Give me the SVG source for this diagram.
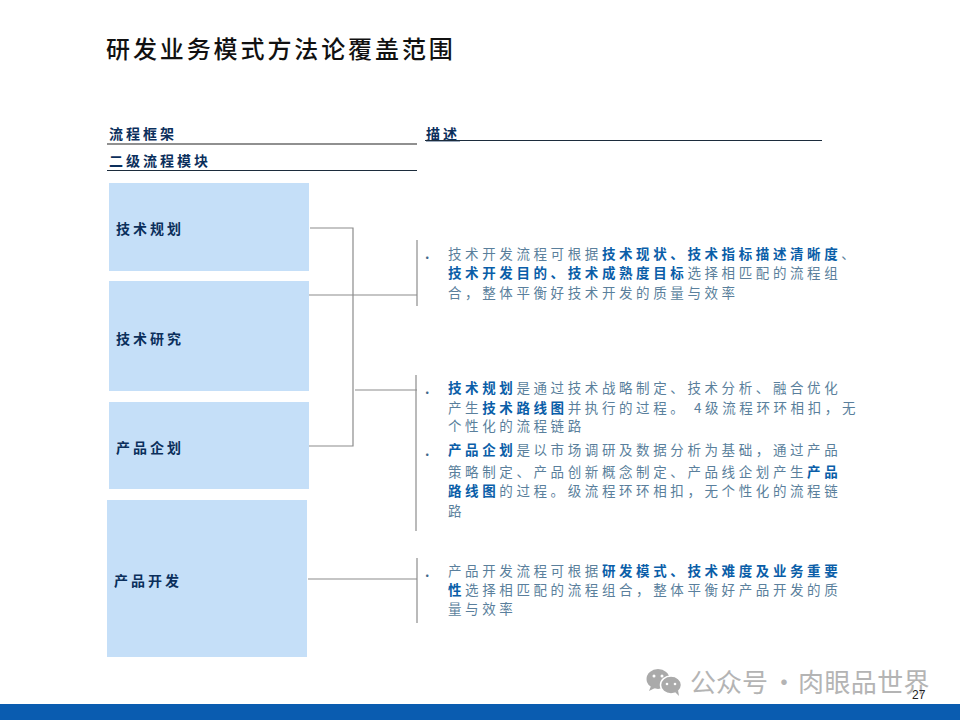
<svg xmlns="http://www.w3.org/2000/svg" width="960" height="720" viewBox="0 0 960 720">
<style>
text{font-family:"Noto Sans CJK SC","Noto Sans",sans-serif}
.box{fill:#c5dff8}
.lbl{font-size:14px;font-weight:700;fill:#0b2f5c;letter-spacing:3px}
.hd{font-size:14px;font-weight:700;fill:#0b2f5c;letter-spacing:3px}
.b{font-size:13.5px;fill:#5a7f9c;letter-spacing:3.6px}
.b tspan{font-weight:700;fill:#0a5ea8}
.dot{font-size:13.5px;font-weight:700;fill:#3f6a8c}
.c{fill:none;stroke:#8c8c8c;stroke-width:1.2}
.r{stroke:#1c2c3c;stroke-width:1.2;fill:none}
</style>
<rect width="960" height="720" fill="#fff"/>
<text x="106" y="58" font-size="24" font-weight="500" fill="#111" letter-spacing="2.9">研发业务模式方法论覆盖范围</text>
<g id="headers">
<text class="hd" x="109" y="139">流程框架</text>
<text class="hd" x="109" y="166">二级流程模块</text>
<text class="hd" x="426" y="139" text-decoration="underline">描述</text>
<path d="M107 144H417" stroke="#909090" stroke-width="2" fill="none"/>
<path class="r" d="M107 170.500H417"/>
<path class="r" d="M425 140.500H822"/>
</g>
<g id="connectors">
<path class="c" d="M310 228H353V446H309"/>
<path class="c" d="M309 295H417"/>
<path class="c" d="M355 390H417"/>
<path class="c" d="M308 579H417"/>
<path class="c" d="M417 240V306"/>
<path class="c" d="M416 375V531"/>
<path class="c" d="M417 558V623"/>
</g>
<g id="node-1"><rect class="box" x="109" y="183" width="200" height="88"/><text class="lbl" x="116" y="234">技术规划</text></g>
<g id="node-2"><rect class="box" x="109" y="281" width="200" height="110"/><text class="lbl" x="116" y="344">技术研究</text></g>
<g id="node-3"><rect class="box" x="109" y="402" width="200" height="87"/><text class="lbl" x="116" y="453">产品企划</text></g>
<g id="node-4"><rect class="box" x="107" y="500" width="200" height="157"/><text class="lbl" x="114" y="586">产品开发</text></g>
<g id="desc-1">
<text class="dot" x="425" y="259">.</text>
<text class="b" x="448" y="259">技术开发流程可根据<tspan>技术现状、技术指标描述清晰度</tspan>、</text>
<text class="b" x="448" y="278"><tspan>技术开发目的、技术成熟度目标</tspan>选择相匹配的流程组</text>
<text class="b" x="448" y="298">合，整体平衡好技术开发的质量与效率</text>
</g>
<g id="desc-2">
<text class="dot" x="425" y="394">.</text>
<text class="b" x="448" y="393"><tspan>技术规划</tspan>是通过技术战略制定、技术分析、融合优化</text>
<text class="b" x="448" y="413">产生<tspan>技术路线图</tspan>并执行的过程。 4级流程环环相扣，无</text>
<text class="b" x="448" y="431">个性化的流程链路</text>
<text class="dot" x="425" y="456">.</text>
<text class="b" x="448" y="455"><tspan>产品企划</tspan>是以市场调研及数据分析为基础，通过产品</text>
<text class="b" x="448" y="477">策略制定、产品创新概念制定、产品线企划产生<tspan>产品</tspan></text>
<text class="b" x="448" y="496"><tspan>路线图</tspan>的过程。级流程环环相扣，无个性化的流程链</text>
<text class="b" x="448" y="516">路</text>
</g>
<g id="desc-3">
<text class="dot" x="425" y="577">.</text>
<text class="b" x="448" y="576">产品开发流程可根据<tspan>研发模式、技术难度及业务重要</tspan></text>
<text class="b" x="448" y="595"><tspan>性</tspan>选择相匹配的流程组合，整体平衡好产品开发的质</text>
<text class="b" x="448" y="614">量与效率</text>
</g>
<rect x="0" y="704" width="960" height="16" fill="#0a5cb0"/>
<g id="watermark" fill="#aaa">
<ellipse cx="658" cy="679" rx="11.500" ry="10"/>
<path d="M651 686l-2 5 6-3z"/>
<ellipse cx="671" cy="685" rx="10.500" ry="9" stroke="#fff" stroke-width="1.500"/>
<path d="M675 692l4 4-1-6z"/>
<circle cx="654" cy="676" r="1.500" fill="#fff"/><circle cx="662" cy="676" r="1.500" fill="#fff"/>
<circle cx="667" cy="684" r="1.300" fill="#fff"/><circle cx="675" cy="684" r="1.300" fill="#fff"/>
<text x="690" y="692" font-size="26" fill="#b4b4b4">公众号</text>
<text x="771" y="692" font-size="26" fill="#b4b4b4">·</text>
<text x="798" y="692" font-size="26" fill="#b4b4b4" letter-spacing="0.400">肉眼品世界</text>
</g>
<text x="912" y="699" font-size="12" fill="#222" style="font-family:'Liberation Sans',sans-serif">27</text>
</svg>
